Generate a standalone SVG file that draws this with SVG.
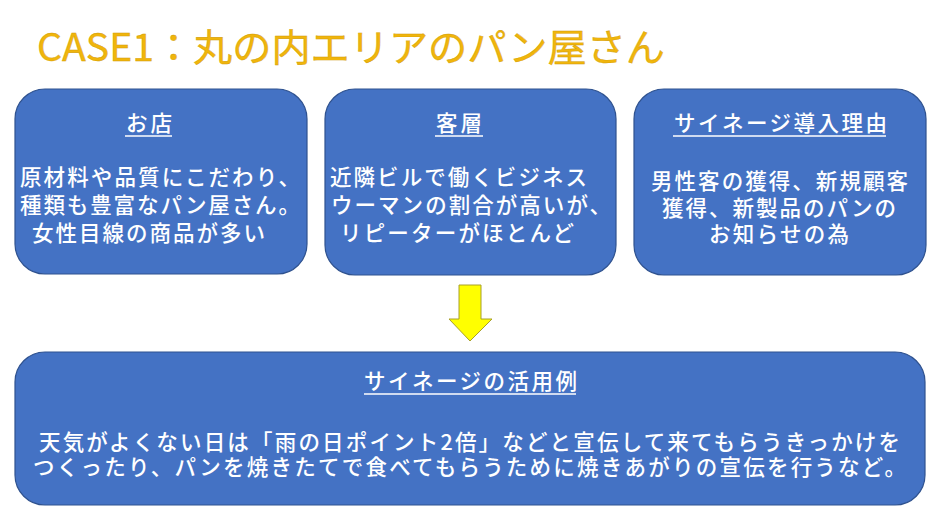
<svg xmlns="http://www.w3.org/2000/svg" width="940" height="529" viewBox="0 0 940 529">
<style>
.box{fill:#4472C4;stroke:#2F528F;stroke-width:1.2}
.t{font-family:"Noto Sans CJK JP","Noto Sans",sans-serif;fill:#FFFFFF;font-size:21.5px;font-weight:500}
.ul{stroke:#FFFFFF;stroke-width:1.5}
.title{font-family:"Noto Sans CJK JP","Noto Sans",sans-serif;fill:#F0B50C;stroke:#D09C08;stroke-width:0.4;font-size:38px;font-weight:400}
</style>
<rect width="940" height="529" fill="#FFFFFF"/>
<text class="title" x="37" y="61" textLength="628" lengthAdjust="spacingAndGlyphs">CASE1：丸の内エリアのパン屋さん</text>

<g id="node-shop">
<rect class="box" x="15" y="89" width="292" height="185" rx="30" ry="30"/>
<text class="t" x="126" y="131" textLength="46">お店</text>
<line class="ul" x1="125" y1="136" x2="172" y2="136"/>
<text class="t" x="20" y="185" textLength="280">原材料や品質にこだわり、</text>
<text class="t" x="20" y="213" textLength="280">種類も豊富なパン屋さん。</text>
<text class="t" x="32" y="241" textLength="233">女性目線の商品が多い</text>
</g>

<g id="node-customers">
<rect class="box" x="325" y="89" width="291" height="186" rx="30" ry="30"/>
<text class="t" x="436" y="131" textLength="46">客層</text>
<line class="ul" x1="435" y1="136" x2="483" y2="136"/>
<text class="t" x="330" y="185" textLength="257">近隣ビルで働くビジネス</text>
<text class="t" x="331" y="213" textLength="280">ウーマンの割合が高いが、</text>
<text class="t" x="340" y="241" textLength="234">リピーターがほとんど</text>
</g>

<g id="node-reason">
<rect class="box" x="634" y="89" width="292" height="186" rx="30" ry="30"/>
<text class="t" x="674" y="131" textLength="213">サイネージ導入理由</text>
<line class="ul" x1="673" y1="136" x2="886" y2="136"/>
<text class="t" x="651" y="189" textLength="257">男性客の獲得、新規顧客</text>
<text class="t" x="662" y="216" textLength="234">獲得、新製品のパンの</text>
<text class="t" x="709" y="242" textLength="140">お知らせの為</text>
</g>

<g id="connectors">
<polygon points="459,285 481,285 481,319 492,319 470,341 449,319 459,319" fill="#FFFF00" stroke="#A8A02A" stroke-width="1"/>
</g>

<g id="node-usage">
<rect class="box" x="15" y="352" width="910" height="153" rx="30" ry="30"/>
<text class="t" x="364" y="389" textLength="213">サイネージの活用例</text>
<line class="ul" x1="364" y1="394" x2="576" y2="394"/>
<text class="t" x="39" y="450" textLength="861">天気がよくない日は「雨の日ポイント2倍」などと宣伝して来てもらうきっかけを</text>
<text class="t" x="33" y="475" textLength="873">つくったり、パンを焼きたてで食べてもらうために焼きあがりの宣伝を行うなど。</text>
</g>
</svg>
